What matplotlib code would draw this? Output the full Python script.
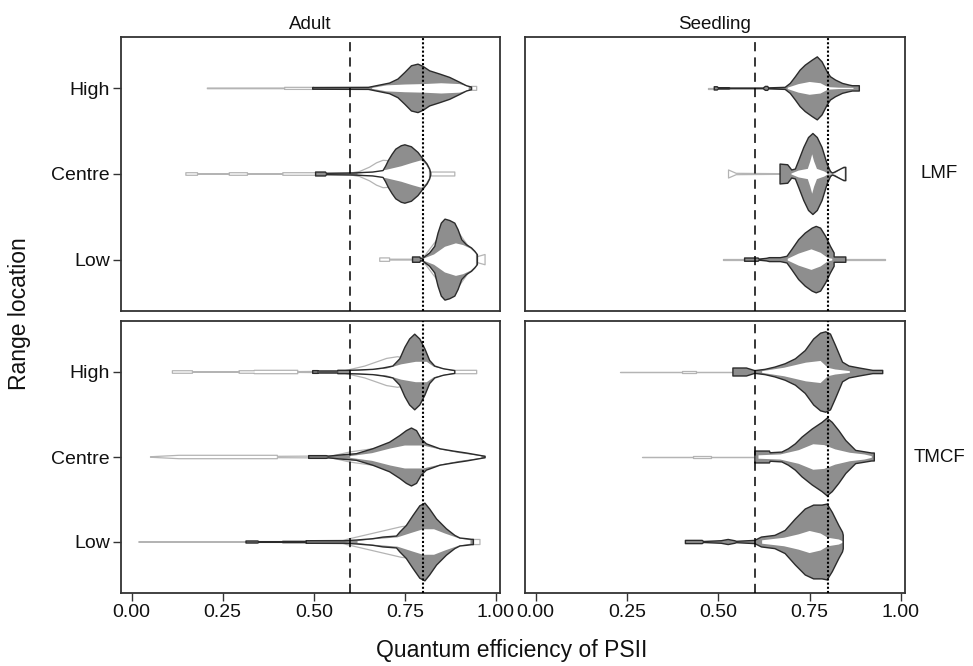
import matplotlib
matplotlib.use("Agg")
import matplotlib.pyplot as plt

plt.rcParams['font.family'] = ['Liberation Sans', 'DejaVu Sans']

# categories
ages = ['Adult', 'Seedling']
forests = ['LMF', 'TMCF']
locations = ['Low', 'Centre', 'High']
xticks = [0.00, 0.25, 0.50, 0.75, 1.00]
xticklabels = ['0.00', '0.25', '0.50', '0.75', '1.00']
ref_dashed = 0.6
ref_dotted = 0.8

# density outlines: x = Fv/Fm, w = half width (category units)
# Adult / LMF
a_lmf_high_grey_x = [0.497, 0.65, 0.672, 0.708, 0.731, 0.750, 0.768, 0.786, 0.800, 0.818, 0.846, 0.873, 0.901, 0.919, 0.933]
a_lmf_high_grey_w = [0.010, 0.012, 0.031, 0.062, 0.109, 0.186, 0.264, 0.283, 0.256, 0.205, 0.167, 0.128, 0.070, 0.031, 0.015]
a_lmf_high_white_x = [0.66, 0.70, 0.75, 0.80, 0.85, 0.90, 0.925]
a_lmf_high_white_w = [0.005, 0.035, 0.045, 0.05, 0.06, 0.05, 0.02]
a_lmf_high_light_x = [0.208, 0.42, 0.42, 0.50, 0.50, 0.93, 0.933, 0.947]
a_lmf_high_light_w = [0.004, 0.004, 0.012, 0.012, 0.004, 0.02, 0.023, 0.023]

a_lmf_centre_grey_x = [0.505, 0.532, 0.535, 0.607, 0.662, 0.690, 0.697, 0.705, 0.715, 0.725, 0.740, 0.750, 0.768, 0.786, 0.800, 0.811, 0.818, 0.821]
a_lmf_centre_grey_w = [0.023, 0.023, 0.008, 0.012, 0.023, 0.04, 0.09, 0.16, 0.23, 0.29, 0.33, 0.341, 0.318, 0.252, 0.174, 0.116, 0.058, 0.012]
a_lmf_centre_white_x = [0.62, 0.66, 0.70, 0.74, 0.77, 0.795, 0.808, 0.816]
a_lmf_centre_white_w = [0.006, 0.02, 0.05, 0.09, 0.13, 0.16, 0.11, 0.05]
a_lmf_centre_light_x = [0.149, 0.181, 0.181, 0.268, 0.268, 0.318, 0.318, 0.415, 0.415, 0.507, 0.507, 0.60, 0.626, 0.653, 0.672, 0.690, 0.708, 0.722, 0.75, 0.80, 0.821, 0.821, 0.887]
a_lmf_centre_light_w = [0.015, 0.015, 0.003, 0.003, 0.015, 0.015, 0.003, 0.003, 0.015, 0.015, 0.006, 0.01, 0.03, 0.08, 0.13, 0.16, 0.155, 0.136, 0.1, 0.05, 0.023, 0.023, 0.023]

a_lmf_low_grey_x = [0.771, 0.791, 0.793, 0.800, 0.818, 0.832, 0.841, 0.850, 0.860, 0.873, 0.887, 0.896, 0.906, 0.919, 0.933, 0.942, 0.949]
a_lmf_low_grey_w = [0.031, 0.031, 0.012, 0.019, 0.078, 0.155, 0.31, 0.426, 0.473, 0.457, 0.426, 0.349, 0.233, 0.174, 0.136, 0.097, 0.058]
a_lmf_low_white_x = [0.80, 0.83, 0.86, 0.89, 0.91, 0.93, 0.945]
a_lmf_low_white_w = [0.01, 0.06, 0.15, 0.19, 0.17, 0.13, 0.07]
a_lmf_low_light_x = [0.681, 0.708, 0.708, 0.771, 0.80, 0.85, 0.90, 0.945, 0.97]
a_lmf_low_light_w = [0.02, 0.02, 0.005, 0.005, 0.02, 0.3, 0.3, 0.03, 0.06]

# Seedling / LMF
s_lmf_high_grey_x = [0.489, 0.497, 0.50, 0.53, 0.533, 0.623, 0.629, 0.635, 0.638, 0.683, 0.697, 0.711, 0.724, 0.738, 0.757, 0.771, 0.784, 0.798, 0.807, 0.821, 0.840, 0.858, 0.867, 0.886]
s_lmf_high_grey_w = [0.019, 0.019, 0.008, 0.008, 0.004, 0.004, 0.023, 0.023, 0.006, 0.012, 0.058, 0.136, 0.213, 0.271, 0.329, 0.368, 0.31, 0.194, 0.136, 0.097, 0.058, 0.039, 0.031, 0.031]
s_lmf_high_white_x = [0.69, 0.72, 0.75, 0.78, 0.80, 0.83, 0.87]
s_lmf_high_white_w = [0.008, 0.05, 0.075, 0.06, 0.015, 0.008, 0.006]
s_lmf_high_light_x = [0.471, 0.489]
s_lmf_high_light_w = [0.003, 0.003]

s_lmf_centre_grey_x = [0.669, 0.690, 0.701, 0.711, 0.720, 0.734, 0.747, 0.759, 0.771, 0.784, 0.798, 0.807, 0.812, 0.817, 0.844, 0.849]
s_lmf_centre_grey_w = [0.116, 0.108, 0.047, 0.058, 0.155, 0.31, 0.426, 0.473, 0.426, 0.31, 0.116, 0.031, 0.012, 0.019, 0.078, 0.078]
s_lmf_centre_white_x = [0.70, 0.72, 0.745, 0.752, 0.757, 0.762, 0.77, 0.79, 0.80, 0.815, 0.82, 0.84, 0.846]
s_lmf_centre_white_w = [0.005, 0.04, 0.06, 0.15, 0.23, 0.15, 0.06, 0.03, 0.005, 0.005, 0.01, 0.065, 0.065]
s_lmf_centre_light_x = [0.528, 0.549, 0.669]
s_lmf_centre_light_w = [0.047, 0.008, 0.004]

s_lmf_low_grey_x = [0.572, 0.609, 0.612, 0.632, 0.640, 0.670, 0.678, 0.688, 0.701, 0.720, 0.738, 0.757, 0.768, 0.780, 0.794, 0.807, 0.817, 0.817, 0.849]
s_lmf_low_grey_w = [0.019, 0.019, 0.006, 0.015, 0.023, 0.023, 0.03, 0.039, 0.116, 0.233, 0.31, 0.368, 0.388, 0.368, 0.271, 0.155, 0.078, 0.031, 0.031]
s_lmf_low_white_x = [0.69, 0.72, 0.755, 0.78, 0.80, 0.812]
s_lmf_low_white_w = [0.01, 0.07, 0.12, 0.08, 0.02, 0.01]
s_lmf_low_light_x = [0.512, 0.955]
s_lmf_low_light_w = [0.003, 0.003]

# Adult / TMCF
a_tmcf_high_grey_x = [0.497, 0.511, 0.511, 0.566, 0.566, 0.598, 0.62, 0.662, 0.690, 0.717, 0.736, 0.750, 0.763, 0.777, 0.791, 0.805, 0.818, 0.832, 0.855, 0.883, 0.887]
a_tmcf_high_grey_w = [0.016, 0.016, 0.012, 0.012, 0.02, 0.02, 0.023, 0.031, 0.047, 0.07, 0.155, 0.291, 0.388, 0.445, 0.388, 0.271, 0.136, 0.07, 0.039, 0.019, 0.016]
a_tmcf_high_white_x = [0.60, 0.66, 0.70, 0.74, 0.78, 0.81, 0.83, 0.86, 0.885]
a_tmcf_high_white_w = [0.012, 0.025, 0.04, 0.09, 0.12, 0.12, 0.06, 0.03, 0.012]
a_tmcf_high_light_x = [0.112, 0.167, 0.167, 0.295, 0.295, 0.337, 0.337, 0.456, 0.456, 0.58, 0.64, 0.70, 0.73, 0.77, 0.82, 0.85, 0.887, 0.947]
a_tmcf_high_light_w = [0.015, 0.015, 0.003, 0.003, 0.015, 0.015, 0.02, 0.02, 0.005, 0.01, 0.07, 0.16, 0.18, 0.15, 0.06, 0.025, 0.02, 0.02]

a_tmcf_centre_grey_x = [0.486, 0.534, 0.54, 0.571, 0.617, 0.662, 0.708, 0.736, 0.754, 0.768, 0.782, 0.795, 0.809, 0.846, 0.883, 0.919, 0.956, 0.970]
a_tmcf_centre_grey_w = [0.016, 0.016, 0.01, 0.023, 0.039, 0.097, 0.174, 0.252, 0.31, 0.341, 0.31, 0.213, 0.155, 0.097, 0.07, 0.047, 0.019, 0.008]
a_tmcf_centre_white_x = [0.60, 0.66, 0.71, 0.75, 0.80, 0.85, 0.90, 0.96]
a_tmcf_centre_white_w = [0.01, 0.045, 0.1, 0.135, 0.135, 0.085, 0.045, 0.01]
a_tmcf_centre_light_x = [0.052, 0.13, 0.40, 0.40, 0.55, 0.60, 0.65, 0.70, 0.75, 0.85, 0.97]
a_tmcf_centre_light_w = [0.003, 0.02, 0.02, 0.008, 0.012, 0.06, 0.09, 0.12, 0.2, 0.06, 0.01]

a_tmcf_low_grey_x = [0.314, 0.346, 0.35, 0.479, 0.479, 0.584, 0.617, 0.662, 0.690, 0.727, 0.736, 0.754, 0.772, 0.791, 0.805, 0.818, 0.837, 0.864, 0.887, 0.901, 0.919, 0.933, 0.938]
a_tmcf_low_grey_w = [0.012, 0.012, 0.004, 0.004, 0.015, 0.015, 0.023, 0.039, 0.058, 0.07, 0.116, 0.194, 0.31, 0.426, 0.457, 0.388, 0.271, 0.155, 0.078, 0.047, 0.039, 0.031, 0.031]
a_tmcf_low_white_x = [0.62, 0.66, 0.73, 0.77, 0.80, 0.83, 0.86, 0.90, 0.93]
a_tmcf_low_white_w = [0.01, 0.03, 0.055, 0.11, 0.15, 0.15, 0.1, 0.04, 0.02]
a_tmcf_low_light_x = [0.02, 0.415, 0.415, 0.48, 0.58, 0.62, 0.70, 0.74, 0.78, 0.85, 0.90, 0.93, 0.956]
a_tmcf_low_light_w = [0.003, 0.003, 0.015, 0.015, 0.02, 0.06, 0.14, 0.18, 0.2, 0.12, 0.04, 0.03, 0.03]

# Seedling / TMCF
s_tmcf_high_grey_x = [0.540, 0.577, 0.600, 0.628, 0.655, 0.683, 0.711, 0.738, 0.761, 0.780, 0.794, 0.807, 0.821, 0.840, 0.858, 0.886, 0.923, 0.950]
s_tmcf_high_grey_w = [0.047, 0.047, 0.016, 0.031, 0.058, 0.097, 0.155, 0.252, 0.388, 0.457, 0.473, 0.446, 0.31, 0.116, 0.07, 0.047, 0.019, 0.019]
s_tmcf_high_white_x = [0.62, 0.68, 0.74, 0.78, 0.80, 0.82, 0.84, 0.86]
s_tmcf_high_white_w = [0.01, 0.05, 0.11, 0.13, 0.05, 0.03, 0.02, 0.01]
s_tmcf_high_light_x = [0.232, 0.40, 0.40, 0.44, 0.44, 0.54]
s_tmcf_high_light_w = [0.003, 0.003, 0.01, 0.01, 0.003, 0.003]

s_tmcf_centre_grey_x = [0.600, 0.640, 0.642, 0.674, 0.692, 0.711, 0.729, 0.757, 0.784, 0.798, 0.812, 0.830, 0.849, 0.876, 0.92, 0.927]
s_tmcf_centre_grey_w = [0.07, 0.07, 0.05, 0.058, 0.097, 0.155, 0.233, 0.329, 0.407, 0.457, 0.407, 0.31, 0.194, 0.078, 0.047, 0.047]
s_tmcf_centre_white_x = [0.61, 0.67, 0.72, 0.76, 0.79, 0.82, 0.86, 0.90, 0.92]
s_tmcf_centre_white_w = [0.02, 0.03, 0.08, 0.15, 0.14, 0.09, 0.05, 0.03, 0.01]
s_tmcf_centre_light_x = [0.291, 0.43, 0.43, 0.48, 0.48, 0.60]
s_tmcf_centre_light_w = [0.003, 0.003, 0.01, 0.01, 0.003, 0.003]

s_tmcf_low_grey_x = [0.41, 0.456, 0.46, 0.508, 0.527, 0.545, 0.55, 0.600, 0.618, 0.655, 0.683, 0.711, 0.738, 0.761, 0.784, 0.798, 0.812, 0.830, 0.840, 0.842]
s_tmcf_low_grey_w = [0.019, 0.019, 0.006, 0.015, 0.03, 0.015, 0.008, 0.019, 0.058, 0.078, 0.136, 0.271, 0.388, 0.434, 0.434, 0.446, 0.349, 0.194, 0.116, 0.08]
s_tmcf_low_white_x = [0.62, 0.68, 0.72, 0.75, 0.78, 0.80, 0.83, 0.84]
s_tmcf_low_white_w = [0.02, 0.05, 0.09, 0.13, 0.1, 0.05, 0.03, 0.01]
s_tmcf_low_light_x = []
s_tmcf_low_light_w = []

panels = {
    ('Adult', 'LMF'): [
        (a_lmf_low_grey_x, a_lmf_low_grey_w, a_lmf_low_white_x, a_lmf_low_white_w, a_lmf_low_light_x, a_lmf_low_light_w),
        (a_lmf_centre_grey_x, a_lmf_centre_grey_w, a_lmf_centre_white_x, a_lmf_centre_white_w, a_lmf_centre_light_x, a_lmf_centre_light_w),
        (a_lmf_high_grey_x, a_lmf_high_grey_w, a_lmf_high_white_x, a_lmf_high_white_w, a_lmf_high_light_x, a_lmf_high_light_w)],
    ('Seedling', 'LMF'): [
        (s_lmf_low_grey_x, s_lmf_low_grey_w, s_lmf_low_white_x, s_lmf_low_white_w, s_lmf_low_light_x, s_lmf_low_light_w),
        (s_lmf_centre_grey_x, s_lmf_centre_grey_w, s_lmf_centre_white_x, s_lmf_centre_white_w, s_lmf_centre_light_x, s_lmf_centre_light_w),
        (s_lmf_high_grey_x, s_lmf_high_grey_w, s_lmf_high_white_x, s_lmf_high_white_w, s_lmf_high_light_x, s_lmf_high_light_w)],
    ('Adult', 'TMCF'): [
        (a_tmcf_low_grey_x, a_tmcf_low_grey_w, a_tmcf_low_white_x, a_tmcf_low_white_w, a_tmcf_low_light_x, a_tmcf_low_light_w),
        (a_tmcf_centre_grey_x, a_tmcf_centre_grey_w, a_tmcf_centre_white_x, a_tmcf_centre_white_w, a_tmcf_centre_light_x, a_tmcf_centre_light_w),
        (a_tmcf_high_grey_x, a_tmcf_high_grey_w, a_tmcf_high_white_x, a_tmcf_high_white_w, a_tmcf_high_light_x, a_tmcf_high_light_w)],
    ('Seedling', 'TMCF'): [
        (s_tmcf_low_grey_x, s_tmcf_low_grey_w, s_tmcf_low_white_x, s_tmcf_low_white_w, s_tmcf_low_light_x, s_tmcf_low_light_w),
        (s_tmcf_centre_grey_x, s_tmcf_centre_grey_w, s_tmcf_centre_white_x, s_tmcf_centre_white_w, s_tmcf_centre_light_x, s_tmcf_centre_light_w),
        (s_tmcf_high_grey_x, s_tmcf_high_grey_w, s_tmcf_high_white_x, s_tmcf_high_white_w, s_tmcf_high_light_x, s_tmcf_high_light_w)],
}

W, H = 973, 666
fig = plt.figure(figsize=(W / 100, H / 100), dpi=100)

col_px = {'Adult': (121, 500), 'Seedling': (525, 905)}
row_px = {'LMF': (37, 311), 'TMCF': (321, 593)}

grey = '#8e8e8e'
dark = '#2b2b2b'
light = '#b4b4b4'
txt = '#111111'

for (age, forest), violins in panels.items():
    x0, x1 = col_px[age]
    y0, y1 = row_px[forest]
    ax = fig.add_axes([x0 / W, 1 - y1 / H, (x1 - x0) / W, (y1 - y0) / H])
    for i, (gx, gw, wx, ww, lx, lw) in enumerate(violins):
        c = i + 1
        if lx:
            ax.fill_between(lx, [c - v for v in lw], [c + v for v in lw],
                            facecolor='none', edgecolor=light, linewidth=0.9, zorder=2)
        ax.fill_between(gx, [c - v for v in gw], [c + v for v in gw],
                        facecolor=grey, edgecolor='none', zorder=3)
        ax.fill_between(wx, [c - v for v in ww], [c + v for v in ww],
                        facecolor='white', edgecolor='none', zorder=4)
        ax.fill_between(gx, [c - v for v in gw], [c + v for v in gw],
                        facecolor='none', edgecolor=dark, linewidth=1.0, zorder=5)
    ax.axvline(ref_dashed, color='black', linestyle=(0, (6, 4)), linewidth=1.1, zorder=6)
    ax.axvline(ref_dotted, color='black', linestyle=(0, (1, 1)), linewidth=1.5, zorder=6)
    ax.set_xlim(-0.029, 1.011)
    ax.set_ylim(0.4, 3.6)
    for s in ax.spines.values():
        s.set_color('#333333')
        s.set_linewidth(1.3)
    ax.tick_params(length=6, width=1.0, color='#333333', labelsize=14, labelcolor=txt, pad=2)
    ax.set_xticks(xticks)
    ax.set_yticks([1, 2, 3])
    if forest == 'TMCF':
        ax.set_xticklabels(xticklabels)
    else:
        ax.tick_params(axis='x', bottom=False, labelbottom=False)
    if age == 'Adult':
        ax.set_yticklabels(locations)
    else:
        ax.tick_params(axis='y', left=False, labelleft=False)
    if forest == 'LMF':
        ax.set_title(age, fontsize=13.5, color=txt, pad=6)
    if age == 'Seedling':
        ax.text(1.09, 0.5, forest, transform=ax.transAxes, ha='center', va='center',
                fontsize=13.5, color=txt)

fig.text(512 / W, 1 - 650 / H, 'Quantum efficiency of PSII', ha='center', va='center',
         fontsize=16.5, color=txt)
fig.text(20 / W, 1 - 314 / H, 'Range location', ha='center', va='center', rotation=90,
         fontsize=16.5, color=txt)

fig.savefig('out.png', dpi=100, facecolor='white')
